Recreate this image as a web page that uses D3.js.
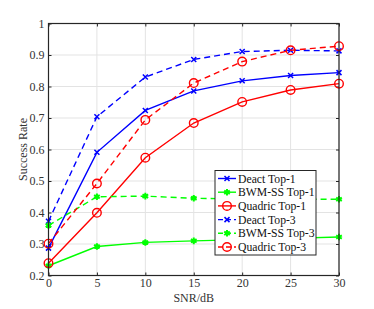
<!DOCTYPE html>
<html>
<head>
<meta charset="utf-8">
<script src="https://cdn.jsdelivr.net/npm/d3@7"></script>
<style>
  body { margin: 0; background: #fff; }
  svg text { font-family: "Liberation Serif", "DejaVu Serif", serif; }
</style>
</head>
<body>
<script>
var snr = [0, 5, 10, 15, 20, 25, 30];
var xTicks = [0, 5, 10, 15, 20, 25, 30];
var yTicks = [0.2, 0.3, 0.4, 0.5, 0.6, 0.7, 0.8, 0.9, 1];

var deactTop1 = [0.287, 0.591, 0.724, 0.786, 0.818, 0.835, 0.844];
var bwmTop1 = [0.231, 0.292, 0.305, 0.310, 0.314, 0.318, 0.322];
var quadricTop1 = [0.239, 0.399, 0.574, 0.684, 0.751, 0.789, 0.809];
var deactTop3 = [0.372, 0.704, 0.830, 0.886, 0.911, 0.915, 0.913];
var bwmTop3 = [0.359, 0.450, 0.452, 0.445, 0.443, 0.442, 0.442];
var quadricTop3 = [0.301, 0.492, 0.694, 0.811, 0.879, 0.915, 0.928];

var seriesNames = ["Deact Top-1", "BWM-SS Top-1", "Quadric Top-1", "Deact Top-3", "BWM-SS Top-3", "Quadric Top-3"];

var series = [
  { name: seriesNames[0], values: deactTop1, color: "#0000ff", dash: null, marker: "x" },
  { name: seriesNames[1], values: bwmTop1, color: "#00ff00", dash: null, marker: "star" },
  { name: seriesNames[2], values: quadricTop1, color: "#ff0000", dash: null, marker: "o" },
  { name: seriesNames[3], values: deactTop3, color: "#0000ff", dash: "6,4", marker: "x" },
  { name: seriesNames[4], values: bwmTop3, color: "#00ff00", dash: "6,4", marker: "star" },
  { name: seriesNames[5], values: quadricTop3, color: "#ff0000", dash: "6,4", marker: "o" }
];

var width = 374, height = 309;
var margin = { left: 48.5, right: 35, top: 23.5, bottom: 33.5 };
var serif = "'Liberation Serif', 'DejaVu Serif', serif";

var svg = d3.select("body").append("svg")
  .attr("width", width)
  .attr("height", height);

var x = d3.scaleLinear().domain([0, 30]).range([margin.left, width - margin.right]);
var y = d3.scaleLinear().domain([0.2, 1]).range([height - margin.bottom, margin.top]);

// grid
var grid = svg.append("g");
grid.selectAll(".gx").data(xTicks).enter().append("line")
  .attr("x1", d => x(d)).attr("x2", d => x(d))
  .attr("y1", y(0.2)).attr("y2", y(1))
  .attr("stroke", "#e3e3e3").attr("stroke-width", 1);
grid.selectAll(".gy").data(yTicks).enter().append("line")
  .attr("y1", d => y(d)).attr("y2", d => y(d))
  .attr("x1", x(0)).attr("x2", x(30))
  .attr("stroke", "#e3e3e3").attr("stroke-width", 1);

// axes with inward ticks
const xAxis = svg.append("g")
  .attr("transform", `translate(0,${y(0.2)})`)
  .call(d3.axisBottom(x).tickValues(xTicks).tickSizeInner(-3).tickSizeOuter(0).tickPadding(3));
const xTop = svg.append("g")
  .attr("transform", `translate(0,${y(1)})`)
  .call(d3.axisTop(x).tickValues(xTicks).tickSizeInner(-3).tickSizeOuter(0).tickFormat(""));
const yAxis = svg.append("g")
  .attr("transform", `translate(${x(0)},0)`)
  .call(d3.axisLeft(y).tickValues(yTicks).tickSizeInner(-3).tickSizeOuter(0).tickPadding(4)
    .tickFormat(d => d === 1 ? "1" : d3.format(".1f")(d)));
const yRight = svg.append("g")
  .attr("transform", `translate(${x(30)},0)`)
  .call(d3.axisRight(y).tickValues(yTicks).tickSizeInner(-3).tickSizeOuter(0).tickFormat(""));

[xAxis, xTop, yAxis, yRight].forEach(function (a) {
  a.attr("font-family", null).attr("font-size", null);
  a.select(".domain").remove();
  a.selectAll("line").attr("stroke", "#262626");
  a.selectAll("text").attr("fill", "#333").style("font-size", "12px")
    .style("font-family", serif);
});

// series
var line = d3.line().x((d, i) => x(snr[i])).y(d => y(d));

function drawMarker(g, type, color, cx, cy) {
  if (type === "x") {
    g.append("path").attr("d", `M${cx - 2.5},${cy - 2.5}L${cx + 2.5},${cy + 2.5}M${cx - 2.5},${cy + 2.5}L${cx + 2.5},${cy - 2.5}`)
      .attr("stroke", color).attr("stroke-width", 1.5).attr("fill", "none");
  } else if (type === "o") {
    g.append("circle").attr("cx", cx).attr("cy", cy).attr("r", 4.3)
      .attr("stroke", color).attr("stroke-width", 1.4).attr("fill", "none");
  } else {
    g.append("path").attr("d", d3.symbol(d3.symbolAsterisk, 30)())
      .attr("transform", `translate(${cx},${cy})`)
      .attr("stroke", color).attr("stroke-width", 2).attr("fill", color);
    g.append("circle").attr("cx", cx).attr("cy", cy).attr("r", 2.2).attr("fill", color);
  }
}

const plot = svg.append("g");
series.forEach(function (s) {
  plot.append("path")
    .datum(s.values)
    .attr("d", line)
    .attr("fill", "none")
    .attr("stroke", s.color)
    .attr("stroke-width", 1.4)
    .attr("stroke-dasharray", s.dash);
  s.values.forEach(function (v, i) {
    drawMarker(plot, s.marker, s.color, x(snr[i]), y(v));
  });
});

// frame
svg.append("rect")
  .attr("x", x(0)).attr("y", y(1))
  .attr("width", x(30) - x(0)).attr("height", y(0.2) - y(1))
  .attr("fill", "none").attr("stroke", "#262626").attr("stroke-width", 1.2);

// legend
const lg = svg.append("g").attr("transform", "translate(215,170.5)");
lg.append("rect").attr("width", 101).attr("height", 84.5)
  .attr("fill", "#fff").attr("stroke", "#262626").attr("stroke-width", 1);
series.forEach(function (s, i) {
  var cy = 8 + i * 13.7;
  lg.append("line").attr("x1", 3).attr("x2", 21).attr("y1", cy).attr("y2", cy)
    .attr("stroke", s.color).attr("stroke-width", 1.4).attr("stroke-dasharray", s.dash ? "5,3" : null);
  drawMarker(lg, s.marker, s.color, 12, cy);
  lg.append("text").attr("x", 23).attr("y", cy + 4)
    .style("font-size", "11.7px").style("font-family", serif).attr("fill", "#111").text(s.name);
});

// labels
svg.append("text")
  .attr("x", (x(0) + x(30)) / 2).attr("y", 302)
  .attr("text-anchor", "middle").style("font-size", "12px").style("font-family", serif).attr("fill", "#333")
  .text("SNR/dB");
svg.append("text")
  .attr("transform", `translate(27,${(y(0.2) + y(1)) / 2}) rotate(-90)`)
  .attr("text-anchor", "middle").style("font-size", "12px").style("font-family", serif).attr("fill", "#333")
  .text("Success Rate");
</script>
</body>
</html>
